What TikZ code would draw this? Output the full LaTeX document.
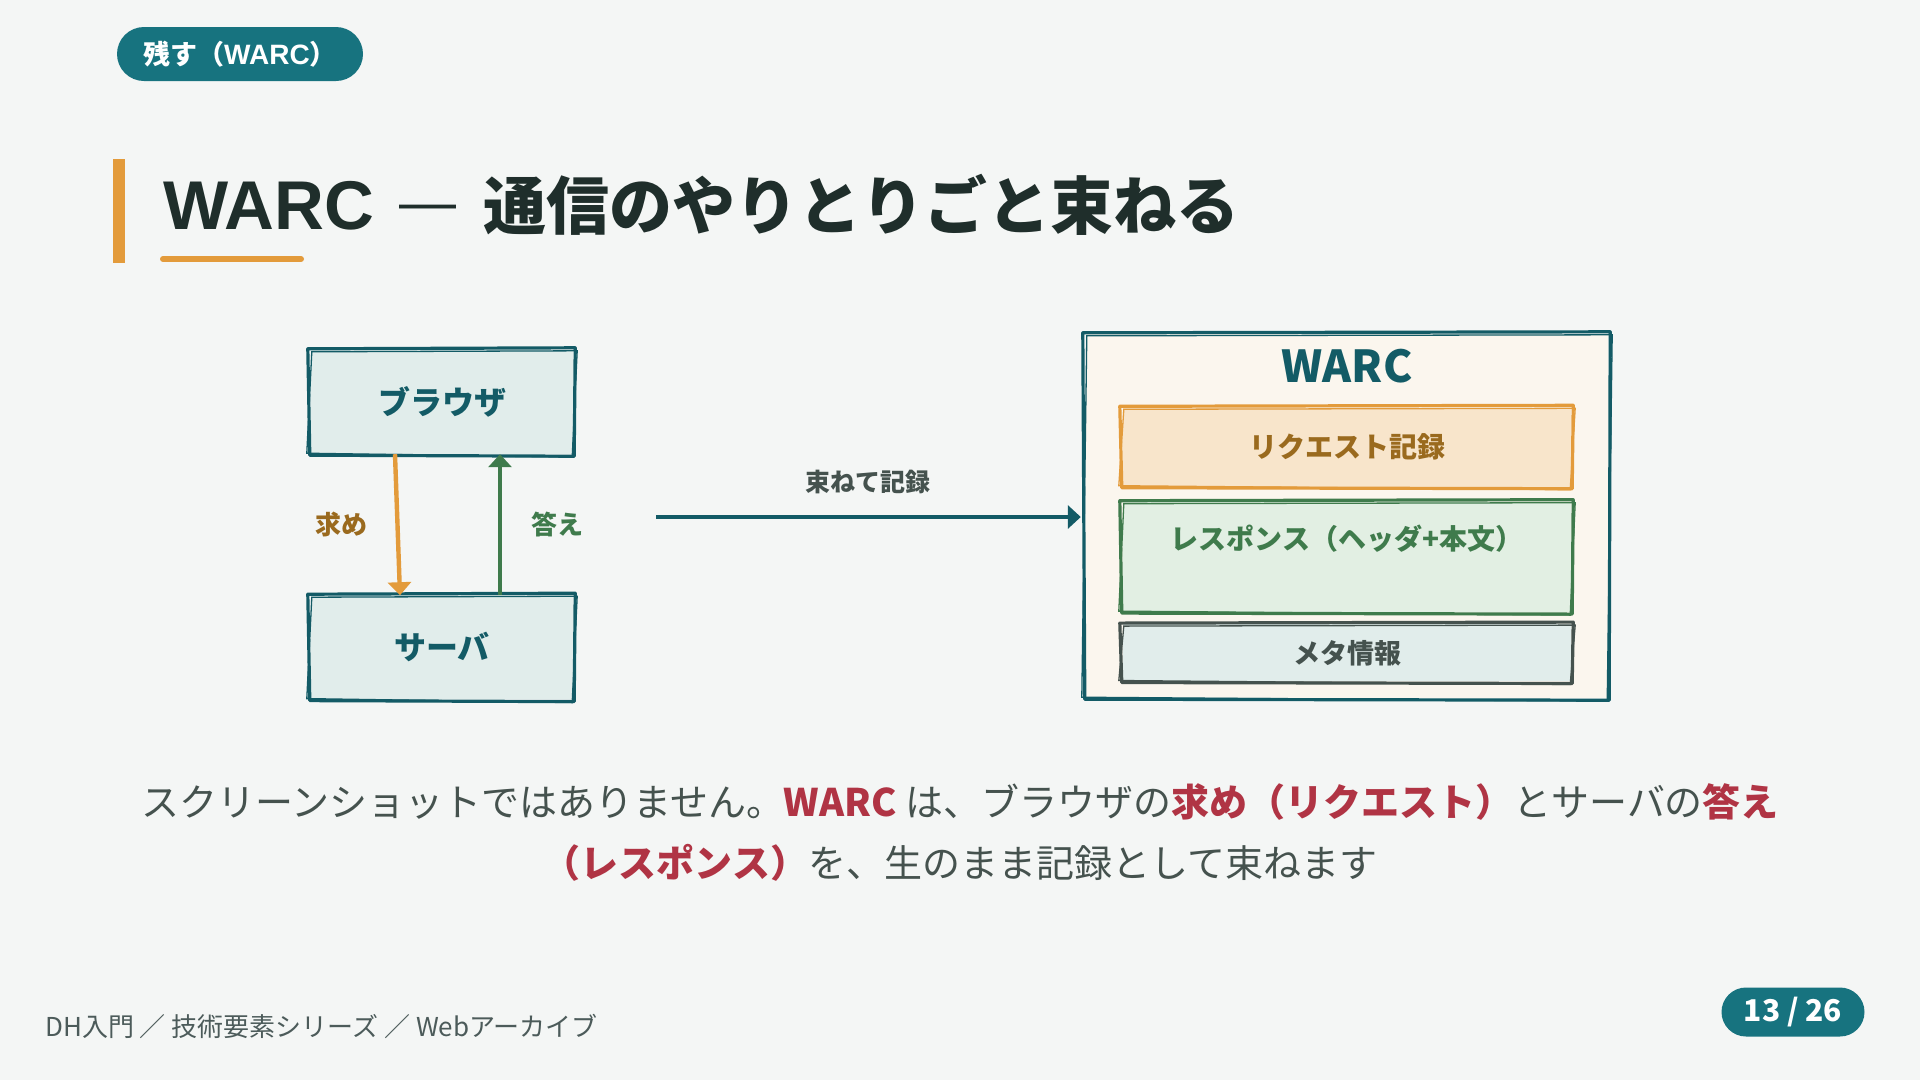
\documentclass[tikz,border=0pt]{standalone}
\usepackage{fontspec}
\setmainfont{Noto Sans CJK JP}
\newfontfamily\latinsans{Liberation Sans}
\usetikzlibrary{positioning, arrows.meta, calc}

\definecolor{pagebg}{HTML}{F4F6F5}
\definecolor{tagteal}{HTML}{17737F}
\definecolor{darkteal}{HTML}{135B66}
\definecolor{ink}{HTML}{1F2E2B}
\definecolor{accent}{HTML}{E39B3B}
\definecolor{gold}{HTML}{9A6A1E}
\definecolor{leaf}{HTML}{3F7B4C}
\definecolor{paleteal}{HTML}{E1EDEB}
\definecolor{cream}{HTML}{FBF6EE}
\definecolor{peach}{HTML}{F8E5CB}
\definecolor{mint}{HTML}{E2EFE3}
\definecolor{slate}{HTML}{45524E}
\definecolor{crimson}{HTML}{B03444}
\definecolor{footgrey}{HTML}{4C5B5A}

\newcommand{\redbold}[1]{\textcolor{crimson}{\bfseries #1}}

% hand-drawn looking outline round a node
\newcommand{\roughbox}[2]{%
  \draw[#2, line width=3.2pt, line join=round]
    ([shift={(-3,-1)}]#1.north west) -- ([shift={(2,-2)}]#1.north east)
    -- ([shift={(1,2)}]#1.south east) -- ([shift={(-1,1)}]#1.south west) -- cycle;
  \draw[#2, line width=1.3pt]
    ([shift={(1,2)}]#1.north west) -- ([shift={(4,1)}]#1.north east)
    -- ([shift={(-1,3)}]#1.south east) -- ([shift={(-4,-1)}]#1.south west) -- cycle;}

\begin{document}
\begin{tikzpicture}[
    x=1pt, y=-1pt,
    pill/.style={
        rectangle,
        fill=tagteal,
        text=white,
        inner sep=0pt
    },
    box/.style={
        rectangle,
        fill=paleteal,
        minimum width=262pt,
        minimum height=104pt,
        inner sep=0pt,
        text=darkteal,
        font=\fontsize{32}{38}\selectfont\bfseries
    },
    layer/.style={
        rectangle,
        minimum width=448pt,
        inner sep=0pt,
        font=\fontsize{28}{34}\selectfont\bfseries
    },
    lbl/.style={
        font=\fontsize{26}{30}\selectfont\bfseries
    },
    flow/.style={
        line width=4.4pt,
        -{Triangle[length=13pt, width=23pt]}
    }
]

    % -- Page --
    \fill[pagebg] (0,0) rectangle (1920,1080);
    \useasboundingbox (0,0) rectangle (1920,1080);

    % -- Header --
    \node[pill, minimum width=246pt, minimum height=54pt, rounded corners=27pt,
          font=\fontsize{27}{30}\selectfont\bfseries] (tag) at (240,54)
          {残す（{\fontsize{28}{30}\selectfont\latinsans WARC}）};

    \fill[accent] (113,159) rectangle (125,263);
    \node[anchor=base west, inner sep=0pt, text=ink,
          font=\fontsize{63}{72}\selectfont\bfseries] (title) at (163,229)
          {{\fontsize{69}{72}\selectfont\latinsans WARC}\hspace{25pt}\raisebox{8pt}{\fontsize{57}{72}\selectfont\latinsans\mdseries —}\hspace{27pt}通信のやりとりごと束ねる};
    \draw[accent, line width=6pt, line cap=round] (163,259) -- (301,259);

    % -- Browser / server exchange --
    \node[box] (browser) at (442,402) {ブラウザ};
    \node[box, below=141pt of browser] (server) {サーバ};
    \roughbox{browser}{darkteal}
    \roughbox{server}{darkteal}

    % request goes down
    \draw[flow, accent] ([xshift=-47pt]browser.south) -- ([xshift=-42pt]server.north)
        node[midway, left=24pt, lbl, text=gold] (ask) {求め};
    % response comes back up
    \draw[flow, leaf] ([xshift=58pt]server.north) -- ([xshift=58pt]browser.south)
        node[midway, right=26pt, lbl, text=leaf] (answer) {答え};

    % -- Bundle arrow --
    \node[rectangle, fill=cream, minimum width=522pt, minimum height=364pt] (warc) at (1347,516) {};
    \coordinate (feed) at (656,517);
    \draw[flow, darkteal] (feed) -- ([xshift=-5pt]warc.west |- feed)
        node[midway, above=18pt, lbl, text=slate, font=\fontsize{25}{30}\selectfont\bfseries] (bundle) {束ねて記録};

    % -- WARC record --
    \roughbox{warc}{darkteal}
    \node[text=darkteal, font=\fontsize{44}{50}\selectfont\bfseries] (warctitle) at (1347,366) {WARC};

    \node[layer, fill=peach, minimum height=79pt, text=gold] (request) at (1347,447) {リクエスト記録};
    \node[layer, fill=mint, minimum height=110pt, below=15pt of request] (response) {};
    \node[layer, minimum width=0pt, text=leaf] (resptext) at ([yshift=-37pt]response.north)
        {レスポンス（ヘッダ+本文）};
    \node[layer, fill=paleteal, minimum height=57pt, below=12pt of response,
          text=slate, font=\fontsize{27}{32}\selectfont\bfseries] (meta) {メタ情報};
    \roughbox{request}{accent}
    \roughbox{response}{leaf}
    \roughbox{meta}{slate}

    % -- Caption --
    \node[align=center, text=slate, font=\fontsize{38}{61}\selectfont] (caption) at (960,833)
        {スクリーンショットではありません。\redbold{WARC} は、ブラウザの\redbold{求め（リクエスト）}とサーバの\redbold{答え}\\
         \redbold{（レスポンス）}を、生のまま記録として束ねます};

    % -- Footer --
    \node[anchor=west, inner sep=0pt, text=footgrey, font=\fontsize{26}{30}\selectfont] (footer) at (45,1026)
        {DH入門 ／ 技術要素シリーズ ／ Webアーカイブ};
    \node[pill, minimum width=143pt, minimum height=49pt, rounded corners=24.5pt,
          font=\fontsize{30}{32}\selectfont\bfseries] (page) at (1793,1012) {13 / 26};

\end{tikzpicture}
\end{document}
